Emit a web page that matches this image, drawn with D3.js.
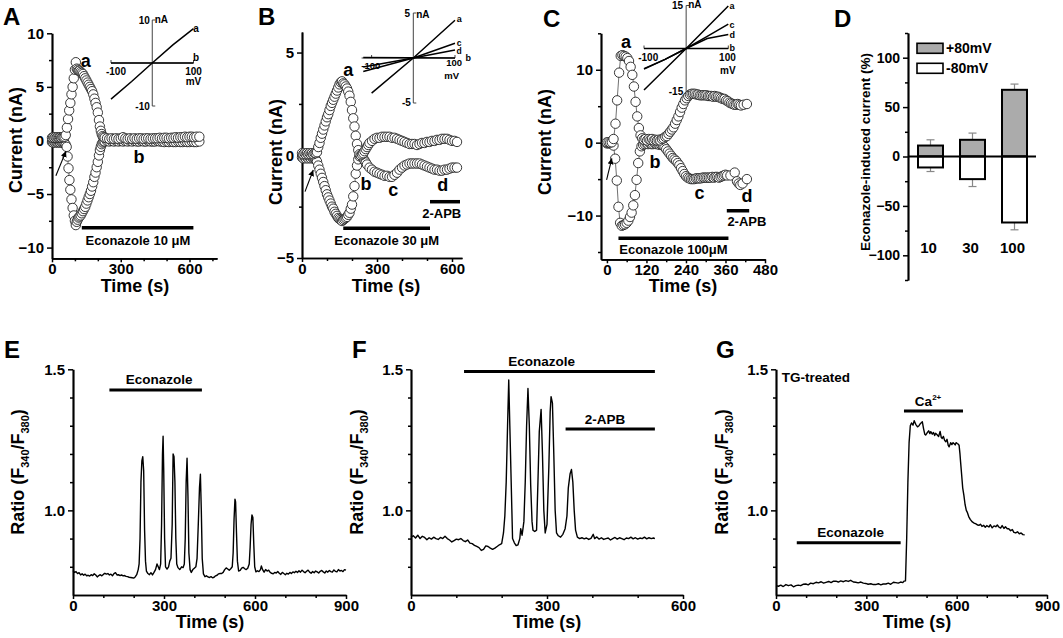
<!DOCTYPE html>
<html><head><meta charset="utf-8">
<script src="https://cdn.jsdelivr.net/npm/d3@7"></script>
<style>
body{margin:0;background:#fff;}
svg text{font-family:"Liberation Sans",Arial,Helvetica,sans-serif;font-weight:bold;fill:#000;}
</style></head><body>
<svg id="c" width="1063" height="638"></svg>
<script>
// ---------- DATA ----------
// Panel A: current at +80 mV (pos) and -80 mV (neg), [time s, nA]
const aPos=[[0,0.25],[5,0.3],[10,0.25],[15,0.3],[20,0.25],[25,0.3],[30,0.25],[35,0.3],[40,0.25],[45,0.3],[50,0.3],[55,0.35],[60,0.5],[65,1.2],[70,2.0],[75,2.8],[80,3.5],[85,4.3],[90,5.0],[95,5.8],[100,6.6],[104,7.3],[108,6.7],[112,6.6],[116,6.5],[120,6.5],[125,6.4],[130,6.3],[135,6.2],[140,6.0],[145,5.8],[150,5.6],[155,5.4],[160,5.2],[165,5.0],[170,4.8],[175,4.6],[180,4.3],[185,3.9],[190,3.5],[195,3.1],[200,2.6],[205,1.9],[209,1.3],[213,0.9],[217,0.6],[221,0.4],[225,0.3],[230,0.25],[240,0.2],[250,0.15],[260,0.2],[270,0.15],[280,0.2],[290,0.15],[300,0.2],[310,0.3],[320,0.2],[330,0.15],[340,0.2],[350,0.15],[360,0.2],[370,0.15],[380,0.2],[390,0.2],[400,0.15],[410,0.2],[420,0.2],[430,0.15],[440,0.2],[450,0.2],[460,0.2],[470,0.25],[480,0.2],[490,0.25],[500,0.25],[510,0.2],[520,0.25],[530,0.25],[540,0.3],[550,0.25],[560,0.3],[570,0.3],[580,0.35],[590,0.3],[600,0.35],[610,0.35],[620,0.3],[630,0.35],[643,0.35]];
const aNeg=[[0,-0.15],[5,-0.2],[10,-0.15],[15,-0.2],[20,-0.15],[25,-0.2],[30,-0.15],[35,-0.2],[40,-0.15],[45,-0.2],[50,-0.2],[55,-0.25],[60,-0.4],[64,-0.6],[68,-1.5],[72,-2.6],[76,-3.7],[80,-4.6],[85,-5.5],[90,-6.3],[95,-7.0],[100,-7.5],[104,-7.9],[108,-7.6],[112,-7.4],[116,-7.2],[120,-7.1],[125,-7.0],[130,-6.8],[135,-6.6],[140,-6.4],[145,-6.2],[150,-5.9],[155,-5.6],[160,-5.3],[165,-5.0],[170,-4.7],[175,-4.3],[180,-3.9],[185,-3.4],[190,-3.0],[195,-2.5],[200,-2.0],[205,-1.4],[209,-0.9],[213,-0.6],[217,-0.35],[221,-0.2],[225,-0.1],[230,-0.1],[240,-0.05],[250,-0.1],[260,-0.05],[270,-0.1],[280,-0.05],[290,-0.1],[300,-0.05],[310,-0.1],[320,-0.05],[330,-0.1],[340,-0.05],[350,-0.1],[360,-0.05],[370,-0.1],[380,-0.1],[390,-0.05],[400,-0.1],[410,-0.1],[420,-0.05],[430,-0.1],[440,-0.1],[450,-0.1],[460,-0.05],[470,-0.1],[480,-0.1],[490,-0.15],[500,-0.1],[510,-0.15],[520,-0.1],[530,-0.15],[540,-0.15],[550,-0.1],[560,-0.15],[570,-0.15],[580,-0.1],[590,-0.15],[600,-0.15],[610,-0.1],[620,-0.15],[630,-0.15],[643,-0.1]];
// Panel B
const bPos=[[0,0.1],[5,0.05],[10,0.1],[15,0.05],[20,0.1],[25,0.05],[30,0.1],[35,0.05],[40,0.1],[45,0.05],[50,0.1],[55,0.1],[60,0.15],[65,0.4],[70,0.6],[75,0.85],[80,1.05],[85,1.25],[90,1.45],[95,1.65],[100,1.85],[105,2.0],[110,2.2],[115,2.4],[120,2.55],[125,2.7],[130,2.85],[135,3.0],[140,3.15],[145,3.3],[150,3.45],[155,3.55],[160,3.6],[165,3.5],[170,3.45],[175,3.35],[180,3.25],[185,3.1],[190,2.9],[195,2.6],[200,2.2],[205,1.8],[210,1.4],[215,0.95],[220,0.55],[225,0.25],[230,0.05],[235,0.0],[240,0.05],[245,0.1],[250,0.2],[255,0.3],[260,0.4],[265,0.5],[270,0.6],[280,0.7],[290,0.8],[300,0.85],[310,0.85],[320,0.9],[330,0.9],[340,0.9],[350,0.9],[360,0.85],[370,0.85],[380,0.8],[390,0.75],[400,0.7],[410,0.65],[420,0.6],[430,0.55],[440,0.55],[450,0.55],[460,0.5],[470,0.55],[480,0.6],[490,0.6],[500,0.65],[510,0.65],[520,0.7],[530,0.7],[540,0.75],[550,0.75],[560,0.8],[570,0.8],[580,0.8],[590,0.75],[600,0.7],[610,0.7],[620,0.65]];
const bNeg=[[0,-0.1],[5,-0.15],[10,-0.1],[15,-0.15],[20,-0.1],[25,-0.15],[30,-0.1],[35,-0.15],[40,-0.1],[45,-0.15],[50,-0.15],[55,-0.2],[60,-0.3],[65,-0.5],[70,-0.7],[75,-0.9],[80,-1.1],[85,-1.3],[90,-1.5],[95,-1.7],[100,-1.9],[105,-2.05],[110,-2.2],[115,-2.35],[120,-2.5],[125,-2.6],[130,-2.75],[135,-2.85],[140,-2.95],[145,-3.05],[150,-3.1],[155,-3.15],[160,-3.2],[165,-3.15],[170,-3.1],[175,-3.05],[180,-3.0],[185,-2.9],[190,-2.8],[195,-2.6],[200,-2.4],[205,-2.0],[210,-1.5],[215,-0.9],[220,-0.5],[225,-0.2],[230,-0.05],[235,0.0],[240,-0.05],[245,-0.15],[250,-0.25],[255,-0.35],[260,-0.45],[270,-0.6],[280,-0.7],[290,-0.8],[300,-0.85],[310,-0.9],[320,-0.95],[330,-1.0],[340,-1.0],[350,-1.05],[360,-1.05],[370,-0.95],[380,-0.85],[390,-0.7],[400,-0.6],[410,-0.5],[420,-0.45],[430,-0.4],[440,-0.4],[450,-0.4],[460,-0.4],[470,-0.4],[480,-0.45],[490,-0.5],[500,-0.55],[510,-0.6],[520,-0.65],[530,-0.7],[540,-0.7],[550,-0.75],[560,-0.75],[570,-0.7],[580,-0.7],[590,-0.65],[600,-0.6],[610,-0.6],[620,-0.6]];
// Panel C
const cPos=[[0,0.05],[5,0.05],[10,0.0],[15,0.05],[20,0.5],[26,2.6],[31,5.8],[37,9.6],[42,11.9],[47,12.0],[52,11.9],[57,11.8],[62,11.6],[67,11.2],[72,10.4],[77,9.3],[82,7.7],[87,5.6],[92,3.6],[97,2.0],[102,1.0],[107,0.6],[112,0.4],[117,0.5],[122,0.3],[127,0.5],[132,0.4],[137,0.5],[142,0.3],[147,0.4],[152,0.3],[157,0.4],[162,0.3],[167,0.5],[172,0.6],[177,0.8],[182,0.9],[187,1.2],[192,1.5],[197,1.8],[202,2.1],[207,2.6],[212,3.1],[217,3.6],[222,4.2],[227,4.8],[232,5.3],[237,5.8],[242,6.1],[247,6.4],[252,6.6],[257,6.7],[262,6.7],[267,6.7],[272,6.6],[277,6.6],[282,6.5],[287,6.5],[292,6.5],[297,6.5],[302,6.5],[307,6.4],[312,6.4],[317,6.4],[322,6.3],[327,6.4],[332,6.3],[337,6.3],[342,6.2],[347,6.1],[352,6.0],[357,6.0],[362,5.8],[367,5.7],[372,5.5],[377,5.4],[382,5.3],[387,5.2],[392,5.2],[397,5.3],[402,5.2],[407,5.1],[415,5.2],[425,5.3]];
const cNeg=[[0,-0.1],[5,-0.1],[10,-0.05],[15,-0.2],[20,-0.4],[25,-2.2],[30,-5.2],[35,-8.8],[40,-11.0],[45,-11.4],[50,-11.3],[55,-11.2],[60,-11.0],[65,-10.7],[70,-10.2],[75,-9.6],[80,-8.6],[85,-7.2],[90,-5.1],[95,-2.8],[100,-1.2],[105,-0.5],[110,-0.3],[115,-0.2],[120,-0.1],[125,-0.2],[130,-0.1],[135,-0.2],[140,-0.2],[145,-0.1],[150,-0.2],[155,-0.2],[160,-0.3],[165,-0.3],[170,-0.4],[175,-0.6],[180,-0.9],[185,-1.2],[190,-1.5],[195,-1.8],[200,-2.1],[205,-2.3],[210,-2.5],[215,-2.8],[220,-3.1],[225,-3.5],[230,-3.9],[235,-4.3],[240,-4.6],[245,-4.8],[250,-4.9],[255,-5.0],[260,-5.0],[265,-5.0],[270,-4.9],[275,-4.9],[280,-4.9],[285,-4.9],[290,-4.8],[295,-4.8],[300,-4.8],[305,-4.8],[310,-4.8],[315,-4.8],[320,-4.7],[325,-4.8],[330,-4.7],[335,-4.7],[340,-4.8],[345,-4.7],[350,-4.6],[355,-4.5],[360,-4.4],[365,-4.5],[375,-4.5],[388,-4.1],[395,-5.3],[400,-5.6],[405,-5.8],[412,-5.6],[425,-5.0]];
// Insets: I-V curves [mV, nA]
const ivA_a=[[-100,-8.4],[-50,-4.3],[0,0],[50,4.2],[100,8.0]];
const ivA_b=[[-100,0],[100,0]];
const ivB_a=[[-100,-3.9],[0,0],[100,4.2]];
const ivB_b=[[-120,0.05],[100,0]];
const ivB_c=[[-120,-1.5],[0,0],[100,1.63]];
const ivB_d=[[-120,-1.0],[0,0],[100,0.9]];
const ivC_a=[[-100,-14.5],[0,0],[100,14.8]];
const ivC_b=[[-100,0],[100,0]];
const ivC_c=[[-100,-7.2],[-50,-3.8],[0,0],[50,4.2],[100,8.5]];
const ivC_d=[[-100,-7.0],[-50,-3.8],[0,0],[50,3.5],[100,4.9]];
// Panel D
const dCats=["10","30","100"];
const dPos=[11.1,16.9,67.5];
const dPosErr=[5.8,6.8,5.8];
const dNeg=[-11.1,-22.9,-66.8];
const dNegErr=[4.1,7.5,7.4];
const dLegend=["+80mV","-80mV"];
// Panel E, F, G: Fura-2 ratio traces [time s, ratio]
const eTrace=[[0,0.787],[5,0.78],[10,0.783],[15,0.776],[20,0.779],[25,0.771],[30,0.775],[35,0.77],[40,0.774],[45,0.768],[50,0.77],[55,0.767],[60,0.772],[65,0.769],[70,0.775],[75,0.771],[80,0.764],[85,0.769],[90,0.772],[95,0.768],[100,0.773],[105,0.777],[110,0.774],[115,0.776],[120,0.771],[125,0.774],[130,0.768],[135,0.776],[140,0.779],[145,0.771],[150,0.772],[155,0.769],[160,0.771],[165,0.768],[170,0.769],[175,0.766],[180,0.765],[185,0.763],[190,0.762],[195,0.761],[200,0.76],[205,0.764],[210,0.772],[215,0.79],[218,0.81],[221,0.9],[224,1.1],[227,1.175],[230,1.19],[233,1.14],[236,0.93],[239,0.82],[242,0.785],[247,0.776],[252,0.772],[257,0.779],[262,0.771],[267,0.78],[272,0.79],[277,0.81],[281,0.8],[285,0.79],[289,0.81],[292,0.95],[295,1.2],[297,1.263],[299,1.15],[302,0.9],[305,0.8],[310,0.792],[315,0.8],[319,0.82],[323,0.83],[327,0.95],[330,1.2],[333,1.19],[336,1.1],[339,0.9],[342,0.81],[346,0.797],[352,0.79],[358,0.8],[363,0.797],[367,0.81],[370,0.9],[373,1.1],[376,1.185],[379,1.05],[382,0.85],[386,0.79],[390,0.78],[395,0.79],[400,0.795],[405,0.8],[409,0.83],[413,0.95],[417,1.08],[420,1.128],[423,1.0],[426,0.83],[430,0.775],[435,0.765],[440,0.768],[445,0.764],[450,0.762],[455,0.765],[460,0.761],[465,0.763],[470,0.768],[475,0.77],[480,0.775],[485,0.776],[490,0.776],[495,0.78],[500,0.79],[505,0.796],[510,0.792],[515,0.788],[520,0.793],[525,0.8],[528,0.85],[531,0.97],[534,1.04],[536,1.03],[539,0.92],[542,0.82],[546,0.785],[551,0.787],[556,0.795],[561,0.798],[566,0.793],[571,0.79],[576,0.795],[581,0.81],[584,0.87],[587,0.95],[590,0.984],[593,0.975],[596,0.88],[599,0.8],[603,0.782],[608,0.786],[613,0.783],[618,0.79],[621,0.803],[625,0.79],[630,0.781],[635,0.79],[640,0.785],[645,0.788],[650,0.78],[655,0.777],[660,0.775],[665,0.78],[670,0.778],[675,0.783],[680,0.777],[685,0.773],[690,0.78],[695,0.776],[700,0.772],[705,0.777],[710,0.774],[715,0.78],[720,0.776],[725,0.782],[730,0.779],[735,0.784],[740,0.78],[745,0.786],[750,0.781],[755,0.788],[760,0.783],[765,0.779],[770,0.784],[775,0.788],[780,0.781],[785,0.777],[790,0.783],[795,0.779],[800,0.785],[805,0.782],[810,0.778],[815,0.784],[820,0.787],[825,0.782],[830,0.778],[835,0.785],[840,0.781],[845,0.787],[850,0.783],[855,0.781],[860,0.789],[865,0.784],[870,0.782],[875,0.79],[880,0.785],[885,0.787],[890,0.783],[895,0.79],[900,0.788]];
const fTrace=[[0,0.905],[5,0.91],[10,0.902],[15,0.912],[20,0.9],[25,0.908],[30,0.904],[35,0.896],[40,0.903],[45,0.898],[50,0.905],[55,0.9],[60,0.897],[65,0.904],[70,0.9],[75,0.908],[80,0.9],[85,0.895],[90,0.888],[95,0.893],[100,0.898],[105,0.896],[110,0.9],[115,0.893],[120,0.889],[125,0.895],[130,0.884],[135,0.882],[140,0.876],[145,0.872],[150,0.868],[155,0.858],[160,0.862],[165,0.874],[170,0.872],[175,0.866],[180,0.862],[185,0.866],[190,0.872],[195,0.878],[200,0.882],[204,0.92],[207,0.98],[210,1.1],[213,1.3],[215.6,1.462],[218,1.3],[221,1.1],[224,0.9],[228,0.885],[232,0.875],[236,0.878],[240,0.9],[242,0.935],[245,0.912],[247,0.935],[249,0.96],[252,1.1],[255,1.3],[258,1.432],[261,1.3],[264,1.09],[267,0.96],[269,0.93],[273,0.925],[277,0.93],[280,1.1],[283,1.28],[287,1.358],[290,1.2],[293,1.0],[296,0.92],[300,0.95],[304,1.15],[307,1.35],[309,1.403],[312,1.38],[315,1.2],[318,1.0],[321,0.92],[325,0.91],[330,0.905],[335,0.915],[340,0.935],[344,0.98],[347,1.08],[351,1.13],[354,1.145],[357,1.1],[360,1.0],[363,0.93],[367,0.905],[372,0.9],[377,0.903],[382,0.899],[387,0.902],[392,0.897],[397,0.901],[402,0.915],[405,0.9],[410,0.906],[415,0.898],[420,0.903],[425,0.897],[430,0.9],[435,0.902],[440,0.895],[445,0.9],[450,0.904],[455,0.898],[460,0.903],[465,0.9],[470,0.896],[475,0.902],[480,0.9],[485,0.905],[490,0.899],[495,0.903],[500,0.898],[505,0.902],[510,0.9],[515,0.905],[520,0.899],[525,0.903],[530,0.9],[535,0.902],[538,0.9]];
const gTrace=[[0,0.733],[8,0.731],[16,0.735],[24,0.73],[33,0.737],[41,0.733],[50,0.736],[58,0.729],[66,0.733],[74,0.735],[82,0.733],[90,0.738],[99,0.739],[107,0.736],[115,0.742],[124,0.74],[133,0.745],[141,0.743],[150,0.747],[158,0.742],[166,0.745],[175,0.748],[183,0.744],[191,0.749],[199,0.749],[207,0.746],[215,0.75],[224,0.747],[232,0.751],[240,0.748],[248,0.752],[257,0.746],[265,0.745],[273,0.743],[282,0.746],[290,0.742],[298,0.741],[306,0.738],[315,0.74],[323,0.737],[331,0.737],[340,0.74],[348,0.736],[356,0.739],[365,0.739],[373,0.742],[381,0.738],[390,0.745],[398,0.744],[406,0.742],[414,0.746],[421,0.744],[425,0.749],[430,0.75],[434,0.9],[438,1.1],[442,1.24],[446,1.3],[450,1.31],[455,1.302],[459,1.318],[464,1.305],[470,1.296],[475,1.3],[480,1.308],[486,1.314],[490,1.29],[494,1.27],[497,1.267],[502,1.275],[507,1.282],[511,1.272],[514,1.279],[519,1.27],[523,1.276],[527,1.265],[530,1.273],[535,1.268],[540,1.262],[545,1.28],[549,1.258],[552,1.255],[556,1.262],[560,1.248],[564,1.243],[568,1.252],[572,1.23],[575,1.225],[580,1.24],[584,1.233],[588,1.24],[591,1.237],[595,1.232],[598,1.24],[602,1.237],[605,1.235],[608,1.231],[611,1.2],[613,1.172],[617,1.12],[620,1.08],[624,1.053],[628,1.02],[632,1.0],[635,0.994],[640,0.978],[645,0.968],[652,0.959],[658,0.955],[664,0.952],[670,0.948],[674,0.947],[679,0.951],[684,0.943],[690,0.947],[695,0.94],[700,0.946],[707,0.941],[712,0.949],[718,0.938],[724,0.945],[730,0.942],[735,0.948],[740,0.941],[746,0.937],[751,0.946],[757,0.936],[762,0.942],[768,0.935],[773,0.935],[779,0.928],[785,0.932],[790,0.922],[796,0.92],[802,0.924],[808,0.917],[814,0.92],[820,0.914],[826,0.913]];
// Ticks
const aXTicks=[0,300,600], aXMinor=[100,200,400,500,700], aYTicks=[-10,-5,0,5,10], aYMinor=[-7.5,-2.5,2.5,7.5];
const bXTicks=[0,300,600], bXMinor=[100,200,400,500], bYTicks=[-5,0,5], bYMinor=[-2.5,2.5];
const cXTicks=[0,120,240,360,480], cXMinor=[60,180,300,420], cYTicks=[-10,0,10], cYMinor=[-15,-5,5,15];
const dYTicks=[-100,-50,0,50,100], dYMinor=[-125,-75,-25,25,75,125];
const rYTicks=[1.0,1.5], rYMinor=[0.8,0.9,1.1,1.2,1.3,1.4];
const eXTicks=[0,300,600,900], eXMinor=[100,200,400,500,700,800];
const fXTicks=[0,300,600], fXMinor=[100,200,400,500];

// ---------- DRAWING ----------
const svg=d3.select("#c");
svg.append("defs").append("marker").attr("id","arr").attr("markerUnits","userSpaceOnUse")
  .attr("markerWidth",7).attr("markerHeight",7).attr("refX",6).attr("refY",3).attr("orient","auto")
  .append("path").attr("d","M0,0 L6,3 L0,6 Z").attr("fill","#000");

const TF=15;
function style(g,fs){
  g.attr("font-size",fs).attr("font-family",'"Liberation Sans",Arial,sans-serif').attr("font-weight","bold");
  g.select(".domain").attr("stroke","#000").attr("stroke-width",1.7);
  g.selectAll(".tick line").attr("stroke","#000").attr("stroke-width",1.5);
  g.selectAll(".tick text").attr("fill","#000");
}
function axes(x,y,o){
  const y0=y.range()[0], x0=x.range()[0];
  if(o.xT){
    const g1=svg.append("g").attr("transform",`translate(0,${y0})`)
      .call(d3.axisBottom(x).tickValues(o.xm).tickSize(3).tickFormat("").tickSizeOuter(0));
    style(g1,TF);
    const g2=svg.append("g").attr("transform",`translate(0,${y0})`)
      .call(d3.axisBottom(x).tickValues(o.xT).tickSize(4).tickPadding(1).tickSizeOuter(0).tickFormat(o.xf||d3.format("d")));
    style(g2,TF);
  }
  const g3=svg.append("g").attr("transform",`translate(${x0},0)`)
    .call(d3.axisLeft(y).tickValues(o.ym).tickSize(3).tickFormat("").tickSizeOuter(0));
  style(g3,TF);
  const g4=svg.append("g").attr("transform",`translate(${x0},0)`)
    .call(d3.axisLeft(y).tickValues(o.yT).tickSize(5).tickPadding(3).tickSizeOuter(0).tickFormat(o.yf||d3.format("d")));
  style(g4,TF);
}
function text(x,y,s,fs,anchor,rot){
  const t=svg.append("text").attr("font-size",fs).attr("text-anchor",anchor||"middle");
  if(rot) t.attr("transform",`translate(${x},${y}) rotate(-90)`); else t.attr("x",x).attr("y",y);
  t.text(s); return t;
}
function bar(x,y,t0,t1,v,w){
  svg.append("line").attr("x1",x(t0)).attr("x2",x(t1)).attr("y1",y(v)).attr("y2",y(v))
    .attr("stroke","#000").attr("stroke-width",w||3.5);
}
function scatter(x,y,data){
  svg.append("path").datum(data).attr("fill","none").attr("stroke","#333").attr("stroke-width",0.7)
    .attr("d",d3.line().x(d=>x(d[0])).y(d=>y(d[1])));
  svg.append("g").selectAll("circle").data(data).join("circle")
    .attr("cx",d=>x(d[0])).attr("cy",d=>y(d[1])).attr("r",4.7)
    .attr("fill","#fff").attr("stroke","#222").attr("stroke-width",0.9);
}
function trace(x,y,data){
  svg.append("path").datum(data).attr("fill","none").attr("stroke","#000").attr("stroke-width",1.4)
    .attr("stroke-linejoin","round").attr("d",d3.line().x(d=>x(d[0])).y(d=>y(d[1])));
}
function arrow(x,y,p0,p1){
  svg.append("line").attr("x1",x(p0[0])).attr("y1",y(p0[1])).attr("x2",x(p1[0])).attr("y2",y(p1[1]))
    .attr("stroke","#000").attr("stroke-width",1.1).attr("marker-end","url(#arr)");
}
function ann(x,y,t,v,s,fs,anchor){
  return text(x(t),y(v),s,fs||18,anchor||"middle").attr("dy","0.35em");
}
function inset(xs,ys,xr,yr,curves,labels){
  const g=svg.append("g");
  g.append("line").attr("x1",xs(xr[0])).attr("x2",xs(xr[1])).attr("y1",ys(0)).attr("y2",ys(0)).attr("stroke","#444").attr("stroke-width",1);
  g.append("line").attr("x1",xs(0)).attr("x2",xs(0)).attr("y1",ys(yr[0])).attr("y2",ys(yr[1])).attr("stroke","#444").attr("stroke-width",1);
  [yr[0],yr[1]].forEach(v=>g.append("line").attr("x1",xs(0)).attr("x2",xs(0)+3).attr("y1",ys(v)).attr("y2",ys(v)).attr("stroke","#444"));
  [-100,100].forEach(v=>g.append("line").attr("x1",xs(v)).attr("x2",xs(v)).attr("y1",ys(0)).attr("y2",ys(0)-3).attr("stroke","#444"));
  const ln=d3.line().x(d=>xs(d[0])).y(d=>ys(d[1]));
  curves.forEach(c=>g.append("path").datum(c).attr("fill","none").attr("stroke","#000").attr("stroke-width",1.5).attr("d",ln));
  labels.forEach(l=>text(xs(l[0]),ys(l[1]),l[2],l[4]||10,l[3]||"middle").attr("dy","0.35em"));
}

// ----- Panel A -----
const xA=d3.scaleLinear([0,720],[52,217]), yA=d3.scaleLinear([-11,10],[258.3,33.3]);
axes(xA,yA,{xT:aXTicks,xm:aXMinor,yT:aYTicks,ym:aYMinor});
scatter(xA,yA,aNeg); scatter(xA,yA,aPos);
const ixA=d3.scaleLinear([-100,100],[111,193.5]), iyA=d3.scaleLinear([-10,10],[106,20]);
inset(ixA,iyA,[-100,100],[-10,10],[ivA_b,ivA_a],
  [[-6,10,"10",'end'],[6,10.2,"nA",'start'],[-88,-2,"-100"],[100,-2,"100"],[100,-4.4,"mV"],[-6,-10,"-10",'end'],[106,8,"a"],[106,1.2,"b"]]);
ann(xA,yA,147,7.4,"a"); ann(xA,yA,380,-1.5,"b");
arrow(xA,yA,[17,-3.3],[61,-1.0]);
bar(xA,yA,130,617,-8.15);
ann(xA,yA,375,-9.3,"Econazole 10 μM",13);
text(135,292,"Time (s)",18);
text(22,140,"Current (nA)",18,"middle",true);
text(3,25,"A",24,"start");

// ----- Panel B -----
const xB=d3.scaleLinear([0,640],[302,462]), yB=d3.scaleLinear([-5,6],[258,32]);
axes(xB,yB,{xT:bXTicks,xm:bXMinor,yT:bYTicks,ym:bYMinor});
scatter(xB,yB,bNeg); scatter(xB,yB,bPos);
const ixB=d3.scaleLinear([-100,100],[371.6,455]), iyB=d3.scaleLinear([-5,5],[103,13]);
inset(ixB,iyB,[-124,100],[-5,5],[ivB_b,ivB_c,ivB_d,ivB_a],
  [[-8,5,"5",'end'],[7,4.8,"nA",'start'],[-102,-0.8,"-100",'middle',9.5],[98,-0.5,"100",'middle',9.5],[92,-1.95,"mV",'middle',9.5],[-6,-4.95,"-5",'end'],[110,4.3,"a",'middle',9],[110,1.7,"c",'middle',8.5],[110,0.75,"d",'middle',8.5],[132,0,"b",'middle',9]]);
ann(xB,yB,185,4.15,"a"); ann(xB,yB,256,-1.36,"b"); ann(xB,yB,365,-1.69,"c"); ann(xB,yB,563,-1.41,"d");
arrow(xB,yB,[12,-1.77],[45,-0.72]);
bar(xB,yB,512,632,-2.26);
ann(xB,yB,559,-2.82,"2-APB",13);
bar(xB,yB,165,512,-3.55);
ann(xB,yB,339,-4.16,"Econazole 30 μM",13);
text(386,292,"Time (s)",18);
text(282,152,"Current (nA)",18,"middle",true);
text(258,25,"B",24,"start");

// ----- Panel C -----
const xC=d3.scaleLinear([-18,480],[601,765]), yC=d3.scaleLinear([-16,15],[259.3,33.3]);
axes(xC,yC,{xT:cXTicks,xm:cXMinor,yT:cYTicks,ym:cYMinor});
scatter(xC,yC,cNeg); scatter(xC,yC,cPos);
const ixC=d3.scaleLinear([-100,100],[644,728.3]), iyC=d3.scaleLinear([-15,15],[91.5,5.5]);
inset(ixC,iyC,[-100,100],[-15,15],[ivC_b,ivC_d,ivC_c,ivC_a],
  [[-7,15,"15",'end'],[5,15.3,"nA",'start'],[-90,-3,"-100"],[98,-3,"100"],[99,-7.6,"mV"],[-7,-15,"-15",'end'],[103,14.8,"a",'start',9],[103,8.2,"c",'start',9],[103,4.8,"d",'start',9],[103,0.1,"b",'start',9]]);
ann(xC,yC,58,13.8,"a"); ann(xC,yC,146,-2.6,"b"); ann(xC,yC,281,-6.9,"c"); ann(xC,yC,425,-7.3,"d");
arrow(xC,yC,[-1,-5.1],[15,-2.15]);
bar(xC,yC,364,432,-9.34);
ann(xC,yC,425,-10.85,"2-APB",13);
bar(xC,yC,35,369,-13.1);
ann(xC,yC,202,-14.7,"Econazole 100μM",13);
text(683,292,"Time (s)",18);
text(551,142,"Current (nA)",18,"middle",true);
text(543,27,"C",24,"start");

// ----- Panel D -----
const xD=d3.scaleBand(dCats,[909.5,1035.5]).paddingInner(0.405).paddingOuter(0.2025);
const yD=d3.scaleLinear([-125,125],[280,33]);
const gD3=svg.append("g").attr("transform","translate(908,0)")
  .call(d3.axisLeft(yD).tickValues(dYMinor).tickSize(3).tickFormat("").tickSizeOuter(0)); style(gD3,14);
const gD4=svg.append("g").attr("transform","translate(908,0)")
  .call(d3.axisLeft(yD).tickValues(dYTicks).tickSize(5).tickPadding(3).tickSizeOuter(0)); style(gD4,14);
const errs=(vals,errsA,sign)=>vals.forEach((v,i)=>{
  const cx=xD(dCats[i])+xD.bandwidth()/2, e=v+sign*errsA[i];
  svg.append("line").attr("x1",cx).attr("x2",cx).attr("y1",yD(v)).attr("y2",yD(e)).attr("stroke","#888").attr("stroke-width",1.2);
  svg.append("line").attr("x1",cx-4).attr("x2",cx+4).attr("y1",yD(e)).attr("y2",yD(e)).attr("stroke","#888").attr("stroke-width",1.2);
});
errs(dPos,dPosErr,1); errs(dNeg,dNegErr,-1);
svg.append("g").selectAll("rect").data(dPos).join("rect")
  .attr("x",(d,i)=>xD(dCats[i])).attr("width",xD.bandwidth()).attr("y",d=>yD(d)).attr("height",d=>yD(0)-yD(d))
  .attr("fill","#ababab").attr("stroke","#000").attr("stroke-width",2);
svg.append("g").selectAll("rect").data(dNeg).join("rect")
  .attr("x",(d,i)=>xD(dCats[i])).attr("width",xD.bandwidth()).attr("y",yD(0)).attr("height",d=>yD(d)-yD(0))
  .attr("fill","#fff").attr("stroke","#000").attr("stroke-width",2);
svg.append("line").attr("x1",908).attr("x2",1036).attr("y1",yD(0)).attr("y2",yD(0)).attr("stroke","#000").attr("stroke-width",2.2);
dCats.forEach(c=>text(xD(c)+xD.bandwidth()/2-2,yD(-98),c,15));
[["#ababab",dLegend[0],43.3],["#fff",dLegend[1],63.3]].forEach(l=>{
  svg.append("rect").attr("x",917).attr("y",l[2]).attr("width",26).attr("height",10).attr("fill",l[0]).attr("stroke","#000").attr("stroke-width",1.6);
  text(946,l[2]+10,l[1],14,"start");
});
text(870,152,"Econazole-induced current (%)",13.5,"middle",true);
text(834,27,"D",24,"start");

// ----- Panels E, F, G -----
function ratioLabel(x){
  const t=svg.append("text").attr("font-size",18).attr("text-anchor","middle").attr("transform",`translate(${x},472) rotate(-90)`);
  t.append("tspan").text("Ratio (F");
  t.append("tspan").attr("font-size",11).attr("dy",5).text("340");
  t.append("tspan").attr("dy",-5).text("/F");
  t.append("tspan").attr("font-size",11).attr("dy",5).text("380");
  t.append("tspan").attr("dy",-5).text(")");
}
const yR=d3.scaleLinear([0.7,1.5],[595,369.3]);
// E
const xE=d3.scaleLinear([0,900],[73,346]);
axes(xE,yR,{xT:eXTicks,xm:eXMinor,yT:rYTicks,ym:rYMinor,yf:d3.format(".1f")});
trace(xE,yR,eTrace);
bar(xE,yR,120,425,1.427,3);
ann(xE,yR,284,1.466,"Econazole",13.5);
text(210,628,"Time (s)",18);
ratioLabel(24);
text(4,358,"E",24,"start");
// F
const xF=d3.scaleLinear([0,600],[411,683]);
axes(xF,yR,{xT:fXTicks,xm:fXMinor,yT:rYTicks,ym:rYMinor,yf:d3.format(".1f")});
trace(xF,yR,fTrace);
bar(xF,yR,117,538,1.492,3);
ann(xF,yR,288,1.527,"Econazole",13.5);
bar(xF,yR,341,538,1.288,3);
ann(xF,yR,428,1.322,"2-APB",13.5);
text(547,628,"Time (s)",18);
ratioLabel(363);
text(352,358,"F",24,"start");
// G
const xG=d3.scaleLinear([0,900],[776,1047]);
axes(xG,yR,{xT:eXTicks,xm:eXMinor,yT:rYTicks,ym:rYMinor,yf:d3.format(".1f")});
trace(xG,yR,gTrace);
bar(xG,yR,69,414,0.885,3);
ann(xG,yR,248,0.924,"Econazole",13.5);
bar(xG,yR,425,621,1.352,3);
const ca=ann(xG,yR,505,1.385,"Ca",13.5);
ca.append("tspan").attr("font-size",8).attr("dy",-6).text("2+");
ann(xG,yR,19,1.472,"TG-treated",13.5,"start");
text(917,628,"Time (s)",18);
ratioLabel(728);
text(716,358,"G",24,"start");
</script>
</body></html>
